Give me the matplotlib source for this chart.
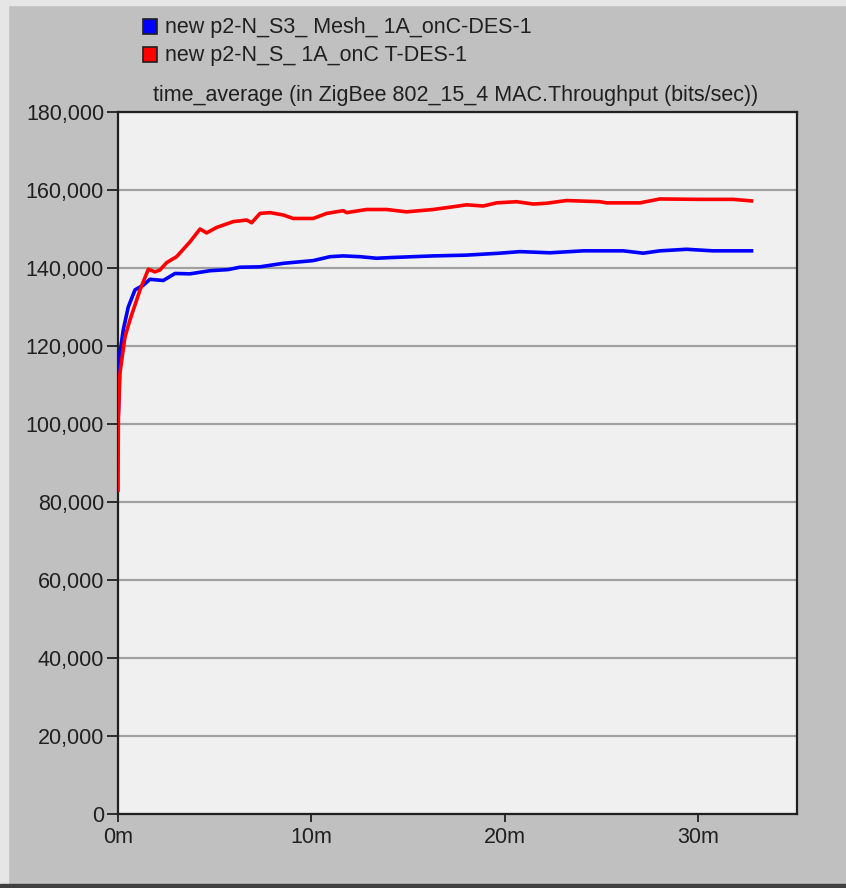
import matplotlib
matplotlib.use("Agg")
import matplotlib.pyplot as plt
from matplotlib.patches import Rectangle
from matplotlib.ticker import FuncFormatter, MultipleLocator

# time in minutes, throughput in bits/sec
mesh_t = [0.00, 0.03, 0.10, 0.27, 0.53, 0.88, 1.31, 1.65, 2.34, 2.95, 3.72, 4.75,
          5.70, 6.30, 7.34, 8.54, 10.09, 10.96, 11.64, 12.51, 13.37, 14.21, 16.29,
          18.02, 19.74, 20.78, 22.33, 24.05, 26.12, 27.15, 28.01, 29.39, 30.75, 32.75]
mesh_v = [100000, 104000, 118100, 124100, 130000, 134400, 135600, 137100, 136800,
          138600, 138500, 139300, 139600, 140200, 140300, 141200, 141900, 142900,
          143100, 142900, 142500, 142700, 143100, 143300, 143800, 144200, 143900,
          144400, 144400, 143800, 144400, 144800, 144400, 144400]

tree_t = [0.00, 0.02, 0.10, 0.36, 0.62, 1.14, 1.57, 1.91, 2.17, 2.52, 3.03, 3.72,
          4.24, 4.58, 5.10, 5.96, 6.65, 6.91, 7.34, 7.86, 8.54, 9.06, 10.09, 10.79,
          11.64, 11.82, 12.85, 13.89, 14.92, 16.29, 17.33, 18.02, 18.88, 19.57,
          20.60, 21.47, 22.15, 23.19, 24.91, 25.26, 26.98, 28.01, 30.08, 31.80, 32.75]
tree_v = [83000, 102000, 113000, 122300, 126700, 134400, 139700, 139000, 139500,
          141400, 142900, 146700, 150000, 149000, 150400, 151900, 152300, 151600,
          154000, 154200, 153600, 152700, 152700, 154000, 154700, 154200, 155000,
          155000, 154400, 155000, 155700, 156200, 155900, 156700, 157000, 156400,
          156600, 157300, 157000, 156700, 156700, 157700, 157600, 157600, 157200]

labels = ["new p2-N_S3_ Mesh_ 1A_onC-DES-1", "new p2-N_S_ 1A_onC T-DES-1"]
colors = ["#0000ff", "#ff0000"]
title = "time_average (in ZigBee 802_15_4 MAC.Throughput (bits/sec))"

W, H = 846, 888
FS = 15.5
plt.rcParams['font.family'] = ['Liberation Sans', 'DejaVu Sans']

fig = plt.figure(figsize=(W / 100, H / 100), dpi=100, facecolor="#c0c0c0")

# window edges
fig.add_artist(Rectangle((0, 0), 8 / W, 1, transform=fig.transFigure,
                         color="#e6e6e6", zorder=0))
fig.add_artist(Rectangle((0, 1 - 5 / H), 1, 5 / H, transform=fig.transFigure,
                         color="#e6e6e6", zorder=0))
fig.add_artist(Rectangle((0, 0), 1, 4 / H, transform=fig.transFigure,
                         color="#404040", zorder=0))

ax = fig.add_axes([118 / W, 1 - 814 / H, (797 - 118) / W, (814 - 112) / H])
ax.set_facecolor("#f0f0f0")

ax.plot(mesh_t, mesh_v, color=colors[0], lw=2.6, zorder=3)
ax.plot(tree_t, tree_v, color=colors[1], lw=2.6, zorder=3)

ax.set_xlim(0, 35.1)
ax.set_ylim(0, 180000)
ax.xaxis.set_major_locator(MultipleLocator(10))
ax.yaxis.set_major_locator(MultipleLocator(20000))
ax.xaxis.set_major_formatter(FuncFormatter(lambda v, p: "%dm" % v))
ax.yaxis.set_major_formatter(FuncFormatter(lambda v, p: "{:,}".format(int(v))))

ax.yaxis.grid(True, color="#a0a0a0", lw=1.6)
ax.set_axisbelow(True)

for s in ax.spines.values():
    s.set_color("#202020")
    s.set_linewidth(1.6)

ax.tick_params(axis="y", direction="out", length=8, width=1.3, pad=2,
               labelsize=FS, colors="#202020")
ax.tick_params(axis="x", direction="out", length=6, width=1.3, pad=3,
               labelsize=FS, colors="#202020")

# legend at top
for i, (lab, c) in enumerate(zip(labels, colors)):
    yc = 27 + 28 * i
    fig.add_artist(Rectangle((143 / W, 1 - (yc + 7.5) / H), 14 / W, 15 / H,
                             transform=fig.transFigure, facecolor=c,
                             edgecolor="#202020", lw=1.2))
    fig.text(165 / W, 1 - yc / H, lab, fontsize=FS, color="#202020",
             ha="left", va="center")

fig.text(456 / W, 1 - 95 / H, title, fontsize=FS, color="#202020",
         ha="center", va="center")

fig.savefig("out.png", dpi=100, facecolor=fig.get_facecolor())
